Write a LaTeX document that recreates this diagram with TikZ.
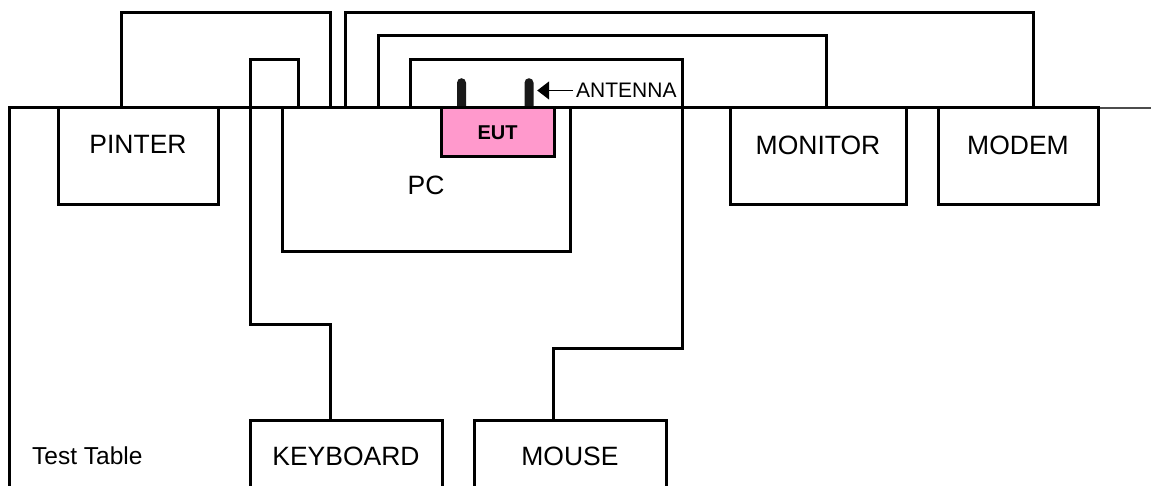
\documentclass[tikz,border=0pt]{standalone}
\usepackage{fontspec}
\setmainfont{Liberation Sans}
\usepackage{tikz}
\usetikzlibrary{arrows.meta, positioning, calc}
\definecolor{eutpink}{RGB}{255, 153, 204}

\begin{document}
\begin{tikzpicture}[
    x=1pt, y=-1pt,
    box/.style={rectangle, draw=black, line width=3pt, outer sep=0pt, inner sep=0pt, anchor=north west},
    eutbox/.style={box, fill=eutpink, font=\bfseries\fontsize{20}{24}\selectfont},
    lbl/.style={font=\fontsize{26.5}{30}\selectfont, inner sep=0pt},
    cable/.style={draw=black, line width=3pt},
    antenna/.style={rectangle, fill=black!90, rounded corners=4.5pt, minimum width=9pt,
                    minimum height=36pt, inner sep=0pt, anchor=north},
    arrow/.style={-{Triangle[length=12pt, width=18pt]}, line width=1.5pt},
]
    \useasboundingbox (0,0) rectangle (1151,486);
    \clip (0,0) rectangle (1151,486);

    % Test table edge
    \draw[cable] (9,490) |- (1098,108);
    \draw[line width=1.5pt, black!70] (1098,108) -- (1151,108);
    \node[font=\fontsize{24.5}{28}\selectfont, inner sep=0pt, anchor=base west] (tablelbl) at (32,464) {Test Table};

    % Equipment on the table
    \node[box, minimum width=160pt, minimum height=97pt] (pinter) at (58,108) {};
    \node[box, minimum width=288pt, minimum height=144pt] (pc) at (282,108) {};
    \node[box, minimum width=176pt, minimum height=97pt] (monitor) at (730,108) {};
    \node[box, minimum width=160pt, minimum height=97pt] (modem) at (938,108) {};
    \node[box, minimum width=192pt, minimum height=74pt] (keyboard) at (250,420) {};
    \node[box, minimum width=192pt, minimum height=74pt] (mouse) at (474,420) {};

    \node[lbl] (pinterlbl) at ([yshift=-36.5pt]pinter.north) {PINTER};
    \node[lbl] (pclbl) at ([yshift=-77pt]pc.north) {PC};
    \node[lbl] (monitorlbl) at ([yshift=-37pt]monitor.north) {MONITOR};
    \node[lbl] (modemlbl) at ([yshift=-37pt]modem.north) {MODEM};
    \node[lbl] (keyboardlbl) at ([yshift=-36pt]keyboard.north) {KEYBOARD};
    \node[lbl] (mouselbl) at ([yshift=-36pt]mouse.north) {MOUSE};

    % Cables
    \draw[cable] ([xshift=63pt]pinter.north west) -- ++(0,-95) -| ([xshift=48pt]pc.north west);
    \draw[cable] ([xshift=63pt]pc.north west) -- ++(0,-95) -| ([xshift=95pt]modem.north west);
    \draw[cable] ([xshift=96pt]pc.north west) -- ++(0,-72) -| ([xshift=96pt]monitor.north west);
    \draw[cable] ([xshift=128pt]pc.north west) -- ++(0,-48) -| ++(272,288) -| ([xshift=79pt]mouse.north west);
    \draw[cable] ([xshift=16pt]pc.north west) -- ++(0,-48) -| ++(-48,264) -| ([xshift=80pt]keyboard.north west);

    % EUT with antennas
    \node[antenna] (ant1) at (461.5,78) {};
    \node[antenna] (ant2) at (529,78) {};
    \node[eutbox, minimum width=113pt, minimum height=49pt] (eut) at (441,108) {EUT};

    \node[font=\fontsize{21}{24}\selectfont, inner sep=0pt, anchor=west] (antlbl) at (576,90.5) {ANTENNA};
    \draw[arrow, shorten >=3.5pt] ([xshift=-3pt]antlbl.west) -- (antlbl.west -| ant2.east);
\end{tikzpicture}
\end{document}
